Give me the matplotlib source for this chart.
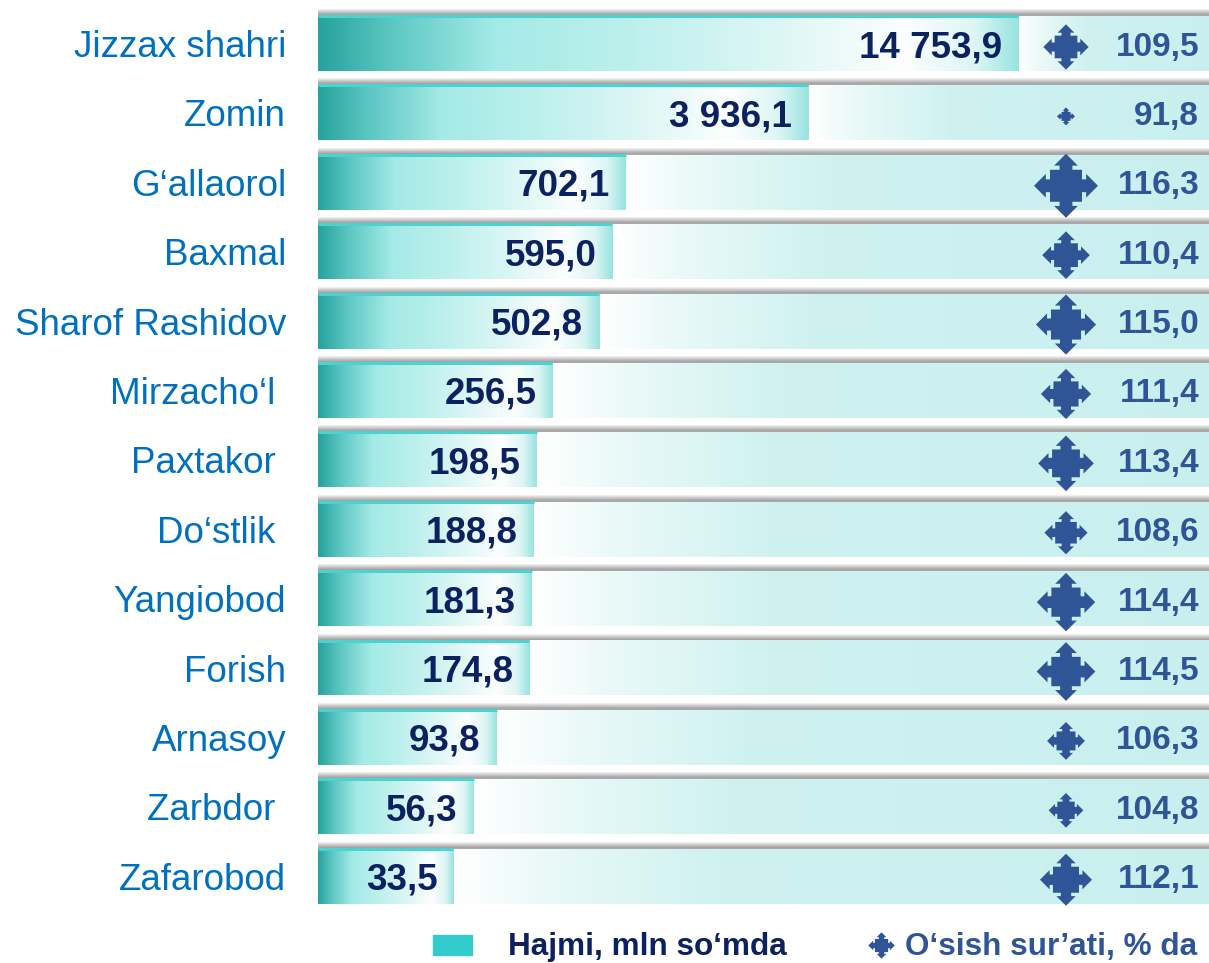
import numpy as np
import matplotlib
matplotlib.use("Agg")
import matplotlib.pyplot as plt
from matplotlib.colors import LinearSegmentedColormap
from matplotlib.path import Path
from matplotlib.lines import Line2D
from matplotlib.patches import Rectangle

# tumanlar bo'yicha ma'lumotlar
districts = ["Jizzax shahri", "Zomin", "G‘allaorol", "Baxmal", "Sharof Rashidov",
             "Mirzacho‘l ", "Paxtakor ", "Do‘stlik ", "Yangiobod", "Forish",
             "Arnasoy", "Zarbdor ", "Zafarobod"]
hajm = [14753.9, 3936.1, 702.1, 595.0, 502.8, 256.5, 198.5, 188.8,
        181.3, 174.8, 93.8, 56.3, 33.5]
osish = [109.5, 91.8, 116.3, 110.4, 115.0, 111.4, 113.4, 108.6,
         114.4, 114.5, 106.3, 104.8, 112.1]
legend_labels = ["Hajmi, mln so‘mda", "O‘sish sur’ati, % da"]

plt.rcParams["font.family"] = ["Liberation Sans", "DejaVu Sans"]

W, H = 1209, 963
fig = plt.figure(figsize=(W / 100, H / 100), dpi=100)
ax = fig.add_axes([318 / W, 0, 891 / W, 1])

# compressed x scale (power)
p = 0.27
ax.set_xscale("function", functions=(lambda x: np.sign(x) * np.abs(x) ** p,
                                     lambda x: np.sign(x) * np.abs(x) ** (1 / p)))
ax.set_xlim(0, 36000)
ax.set_ylim(13.25, -0.627)

y = np.arange(len(districts))
bar_h = 0.79
shadow_h = 0.1


def fmt(v):
    return f"{v:,.1f}".replace(",", " ").replace(".", ",")


def to_axes(xv, yv):
    return ax.transAxes.inverted().transform(ax.transData.transform((xv, yv)))


fg_cmap = LinearSegmentedColormap.from_list("fg", [
    (0.0, "#27a29c"), (0.1, "#5bc6c2"), (0.25, "#a4eae6"), (0.45, "#bdf0ed"),
    (0.65, "#dcf6f5"), (0.84, "#fcfefe"), (0.94, "#dcf5f4"), (1.0, "#98e4e0")])
bg_cmap = LinearSegmentedColormap.from_list("bg", [
    (0.0, "#ffffff"), (0.12, "#e9f9f8"), (0.35, "#cff2f1"), (1.0, "#c8efee")])
sh_cmap = LinearSegmentedColormap.from_list("sh", [
    (0.0, "#f6f6f6"), (0.45, "#c4c4c4"), (0.85, "#9f9f9f"), (1.0, "#b4b4b4")])

hgrad = np.linspace(0, 1, 256).reshape(1, -1)
vgrad = np.linspace(0, 1, 64).reshape(-1, 1)

bars = ax.barh(y, hajm, height=bar_h, color="#33cccc", linewidth=0, zorder=2)

for i, v in enumerate(hajm):
    top = i - bar_h / 2
    bot = i + bar_h / 2
    xa0, ya_top = to_axes(0, top)
    xa1, ya_bot = to_axes(v, bot)
    _, ys_top = to_axes(0, top - shadow_h)
    # shadow band above the row
    ax.imshow(vgrad, cmap=sh_cmap, extent=(0, 1, ya_top, ys_top), transform=ax.transAxes,
              aspect="auto", interpolation="bilinear", zorder=1)
    # light background of the row
    ax.imshow(hgrad, cmap=bg_cmap, extent=(xa1, 1, ya_bot, ya_top), transform=ax.transAxes,
              aspect="auto", interpolation="bilinear", zorder=1)
    # gradient fill of the bar
    ax.imshow(hgrad, cmap=fg_cmap, extent=(xa0, xa1, ya_bot, ya_top), transform=ax.transAxes,
              aspect="auto", interpolation="bilinear", zorder=2.5)

ax.hlines(y - bar_h / 2, 0, hajm, colors="#4dd3cf", linewidth=2.2, zorder=3)

for i, v in enumerate(hajm):
    ax.annotate(fmt(v), xy=(v, i), xytext=(-16, 0), textcoords="offset pixels",
                ha="right", va="center_baseline", fontsize=26.5, fontweight="bold",
                color="#0c2160", zorder=5)

# four-way arrow marker
q = [(0, 1), (0.37, 0.63), (0.2, 0.63), (0.2, 0.5), (0.5, 0.5),
     (0.5, 0.2), (0.63, 0.2), (0.63, 0.37)]
verts = []
for k in range(4):
    for (px, py) in q:
        for _ in range(k):
            px, py = py, -px
        verts.append((px, py))
verts.append(verts[0])
arrow = Path(verts, closed=True)

g = np.array(osish)
t = (g - g.min()) / (g.max() - g.min())
size_px = 18 + 46 * t ** 1.6
sizes = (size_px * 0.72) ** 2

ytr = ax.get_yaxis_transform()
ax.scatter(np.full(len(g), 0.8395), y + 0.05, s=sizes, marker=arrow, color="#2f5597",
           linewidths=0, transform=ytr, zorder=5)
for i, v in enumerate(osish):
    ax.text(0.989, i, fmt(v), transform=ytr, ha="right", va="center_baseline",
            fontsize=24, fontweight="bold", color="#2f5597", zorder=5)

ax.set_yticks(y)
ax.set_yticklabels(districts, fontsize=26.5, color="#0070c0")
ax.tick_params(axis="y", length=0, pad=23)
ax.set_xticks([])
ax.minorticks_off()
ax.tick_params(axis="x", which="both", length=0, labelbottom=False)
for s in ax.spines.values():
    s.set_visible(False)

# legend
fig.add_artist(Rectangle((433 / W, 1 - 955 / H), 39 / W, 20 / H,
                         transform=fig.transFigure, color="#33cccc"))
fig.text(508 / W, 1 - 955 / H, legend_labels[0], fontsize=22.7, fontweight="bold",
         color="#0c2160", va="baseline")
fig.add_artist(Line2D([881 / W], [1 - 945 / H], marker=arrow, markersize=19,
                      markeredgewidth=0, color="#2f5597", linestyle="none",
                      transform=fig.transFigure))
fig.text(905 / W, 1 - 955 / H, legend_labels[1], fontsize=22.7, fontweight="bold",
         color="#2f5597", va="baseline")

fig.savefig("out.png", dpi=100)
